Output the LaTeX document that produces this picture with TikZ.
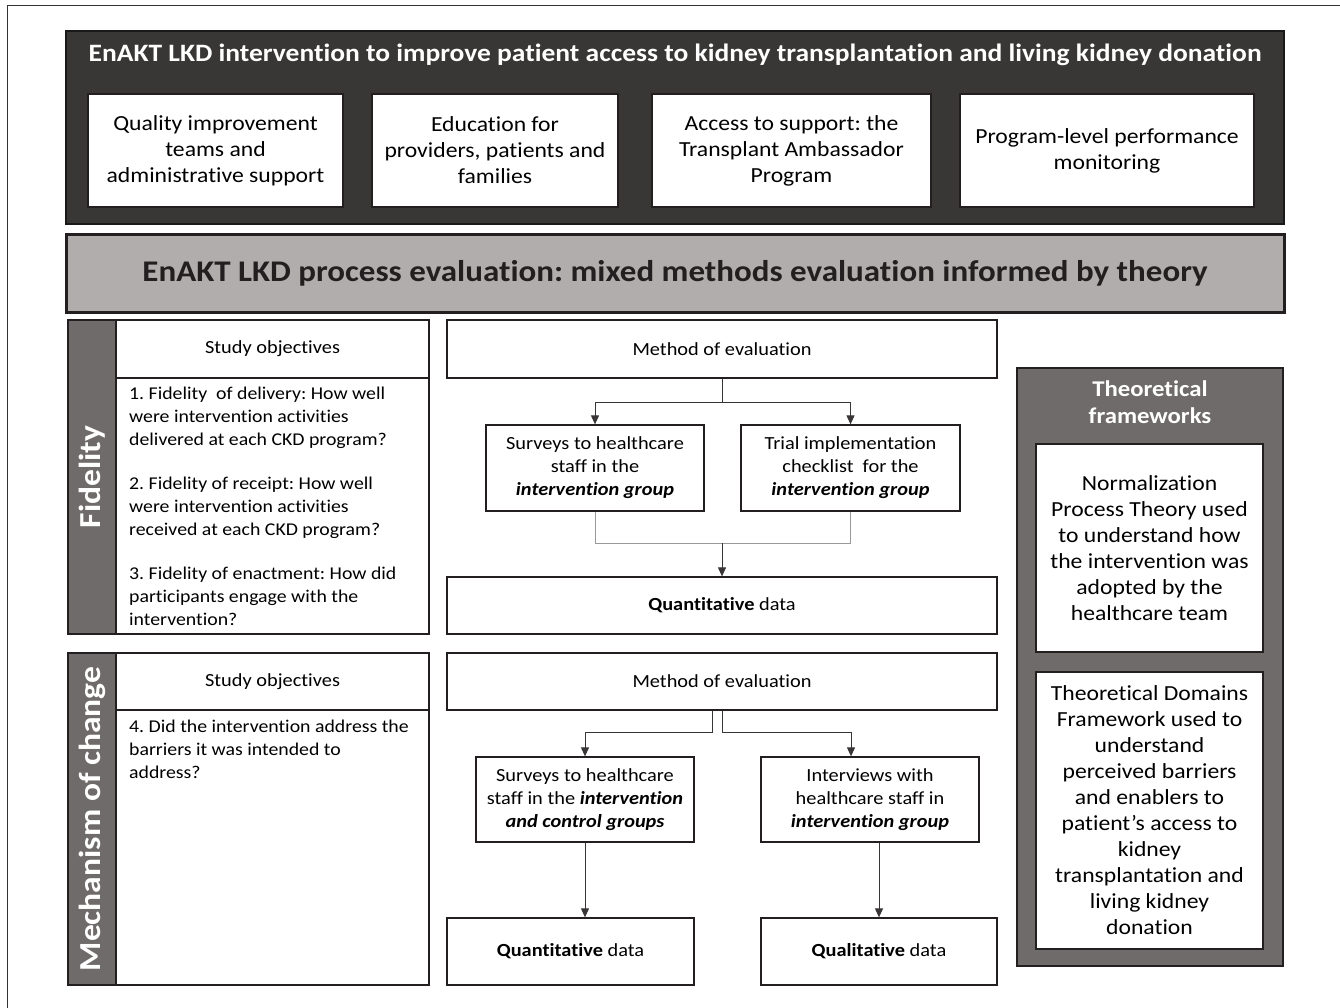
\documentclass[tikz,border=0pt]{standalone}
\usepackage{fontspec}
\setmainfont{Carlito}[FakeStretch=1.1, Ligatures=NoCommon]
\usepackage{tikz}
\usetikzlibrary{calc}
\usetikzlibrary{arrows.meta}
\frenchspacing
\definecolor{darkbg}{HTML}{383735}
\definecolor{bandgray}{HTML}{B1ADAC}
\definecolor{stripgray}{HTML}{6F6B6A}
\definecolor{inkdark}{HTML}{231F20}
\tikzset{
	box/.style={draw=inkdark, fill=white, line width=1.3pt, align=center, inner sep=0pt},
	bigtxt/.style={font=\fontsize{21.5}{26}\selectfont},
	midtxt/.style={font=\fontsize{18.5}{23}\selectfont},
	strip/.style={draw=inkdark, fill=stripgray, line width=1.3pt, inner sep=0pt},
	striplabel/.style={rotate=90, text=white, font=\bfseries\fontsize{30.5}{34}\selectfont},
	arr/.style={-{Triangle[width=8pt,length=9pt]}, line width=1pt, draw=inkdark!90},
	mergeline/.style={line width=1pt, draw=black!40},
}

\begin{document}
\begin{tikzpicture}[x=1pt,y=-1pt]
	\useasboundingbox (0,0) rectangle (1340,1008);
	\draw[line width=1pt, black!80] (7,1008) -- (7,6) -- (1340,6);
	% intervention
	\node[draw=black!90, fill=darkbg, line width=2pt, minimum width=1218, minimum height=193] (topbox) at (675,127.5) {};
	\node[text=white, font=\bfseries\fontsize{25}{30}\selectfont] (ttl) at (675,55) {EnAKT LKD intervention to improve patient access to kidney transplantation and living kidney donation};
	\node[box, bigtxt, minimum width=255, minimum height=113] (q1) at (215.5,150.5) {Quality improvement\\teams and\\administrative support};
	\node[box, bigtxt, minimum width=246, minimum height=113] (q2) at (495,150.5) {Education for\\providers, patients and\\families};
	\node[box, bigtxt, minimum width=279, minimum height=113] (q3) at (791.5,150.5) {Access to support: the\\Transplant Ambassador\\Program};
	\node[box, bigtxt, minimum width=294, minimum height=113] (q4) at (1107,150.5) {Program-level performance\\monitoring};
	% evaluation band
	\node[draw=inkdark, fill=bandgray, line width=3pt, minimum width=1218, minimum height=77, text=inkdark, font=\bfseries\fontsize{30}{34}\selectfont] (band) at (675,273.5) {EnAKT LKD process evaluation: mixed methods evaluation informed by theory};
	% fidelity
	\node[strip, minimum width=48, minimum height=314] (fidstrip) at (92,477) {};
	\node[striplabel] (fidlbl) at (fidstrip.center) {Fidelity};
	\node[box, midtxt, minimum width=313, minimum height=58] (fidhead) at (272.5,349) {Study objectives};
	\node[box, minimum width=313, minimum height=256] (fidbody) at (272.5,506) {};
	\node[align=left, anchor=north west, inner sep=0pt, font=\fontsize{18}{23}\selectfont] (fidtxt) at (129,387) {1. Fidelity\ \ of delivery: How well\\were intervention activities\\delivered at each CKD program?\\[21pt]2. Fidelity of receipt: How well\\were intervention activities\\received at each CKD program?\\[21pt]3. Fidelity of enactment: How did\\participants engage with the\\intervention?};
	\node[box, midtxt, minimum width=550, minimum height=58] (meth1) at (722,349) {Method of evaluation};
	\node[box, midtxt, minimum width=218, minimum height=86] (surv1) at (595,468) {Surveys to healthcare\\staff in the\\\textbf{\textit{intervention group}}};
	\node[box, midtxt, minimum width=219, minimum height=86] (trial1) at (850.5,468) {Trial implementation\\checklist\ \ for the\\\textbf{\textit{intervention group}}};
	\node[box, midtxt, minimum width=550, minimum height=57] (quant1) at (722,605.5) {\textbf{Quantitative} data};
	\draw[arr] (meth1.south) -- ++(0,24) -| (surv1.north);
	\draw[arr] (meth1.south) -- ++(0,24) -| (trial1.north);
	\draw[mergeline] (surv1.south) -- ++(0,32) -| (trial1.south);
	\coordinate (merge1) at (quant1.north |- 0,543);
	\draw[arr] (merge1) -- (quant1.north);
	% mechanism of change
	\node[strip, minimum width=48, minimum height=332] (mecstrip) at (92,819) {};
	\node[striplabel] (meclbl) at (mecstrip.center) {Mechanism of change};
	\node[box, midtxt, minimum width=313, minimum height=57] (mechead) at (272.5,681.5) {Study objectives};
	\node[box, minimum width=313, minimum height=275] (mecbody) at (272.5,847.5) {};
	\node[align=left, anchor=north west, inner sep=0pt, font=\fontsize{18}{23}\selectfont] (mectxt) at (129,720) {4. Did the intervention address the\\barriers it was intended to\\address?};
	\node[box, midtxt, minimum width=550, minimum height=57] (meth2) at (722,681.5) {Method of evaluation};
	\node[box, midtxt, minimum width=218, minimum height=85] (surv2) at (585,799.5) {Surveys to healthcare\\staff in the \textbf{\textit{intervention}}\\\textbf{\textit{and control groups}}};
	\node[box, midtxt, minimum width=218, minimum height=85] (intv) at (870,799.5) {Interviews with\\healthcare staff in\\\textbf{\textit{intervention group}}};
	\node[box, midtxt, minimum width=247, minimum height=67] (quant2) at (570.5,951.5) {\textbf{Quantitative} data};
	\node[box, midtxt, minimum width=236, minimum height=67] (qual) at (879,951.5) {\textbf{Qualitative} data};
	\draw[arr] ([xshift=-10pt]meth2.south) -- ++(0,22) -| (surv2.north);
	\draw[arr] (meth2.south) -- ++(0,22) -| ([xshift=-19pt]intv.north);
	\draw[arr] (surv2.south) -- (surv2.south |- quant2.north);
	\draw[arr] (qual.north |- intv.south) -- (qual.north);
	% theories
	\node[strip, minimum width=266, minimum height=598] (theo) at (1150,667) {};
	\node[text=white, align=center, font=\bfseries\fontsize{22.5}{27}\selectfont] (theottl) at (1150,402.5) {Theoretical\\frameworks};
	\node[box, bigtxt, minimum width=227, minimum height=208] (npt) at (1149.5,548) {Normalization\\Process Theory used\\to understand how\\the intervention was\\adopted by the\\healthcare team};
	\node[box, bigtxt, minimum width=227, minimum height=277] (tdf) at (1149.5,810.5) {Theoretical Domains\\Framework used to\\understand\\perceived barriers\\and enablers to\\patient’s access to\\kidney\\transplantation and\\living kidney\\donation};
\end{tikzpicture}
\end{document}
